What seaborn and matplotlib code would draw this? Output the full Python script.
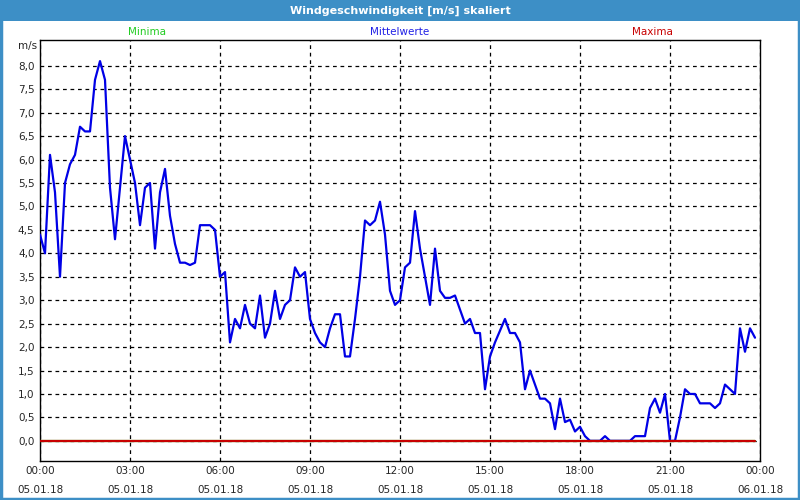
import numpy as np
import pandas as pd
import matplotlib
matplotlib.use("Agg")
import matplotlib.pyplot as plt
import matplotlib.dates as mdates
from matplotlib.patches import Rectangle
from matplotlib.ticker import FuncFormatter, FixedLocator
import seaborn as sns

# 10-Minuten-Mittelwerte, 05.01.18 00:00 bis 23:50 (eine Zeile pro Stunde)
mittel = [
    4.4, 4.0, 6.1, 5.3, 3.5, 5.5,     # 00
    5.9, 6.1, 6.7, 6.6, 6.6, 7.7,     # 01
    8.1, 7.7, 5.4, 4.3, 5.4, 6.5,     # 02
    6.0, 5.5, 4.6, 5.4, 5.5, 4.1,     # 03
    5.3, 5.8, 4.8, 4.2, 3.8, 3.8,     # 04
    3.75, 3.8, 4.6, 4.6, 4.6, 4.5,    # 05
    3.5, 3.6, 2.1, 2.6, 2.4, 2.9,     # 06
    2.5, 2.4, 3.1, 2.2, 2.5, 3.2,     # 07
    2.6, 2.9, 3.0, 3.7, 3.5, 3.6,     # 08
    2.6, 2.3, 2.1, 2.0, 2.4, 2.7,     # 09
    2.7, 1.8, 1.8, 2.6, 3.5, 4.7,     # 10
    4.6, 4.7, 5.1, 4.4, 3.2, 2.9,     # 11
    3.0, 3.7, 3.8, 4.9, 4.1, 3.5,     # 12
    2.9, 4.1, 3.2, 3.05, 3.05, 3.1,   # 13
    2.8, 2.5, 2.6, 2.3, 2.3, 1.1,     # 14
    1.8, 2.1, 2.35, 2.6, 2.3, 2.3,    # 15
    2.1, 1.1, 1.5, 1.2, 0.9, 0.9,     # 16
    0.8, 0.25, 0.9, 0.4, 0.45, 0.2,   # 17
    0.3, 0.1, 0.0, 0.0, 0.0, 0.1,     # 18
    0.0, 0.0, 0.0, 0.0, 0.0, 0.1,     # 19
    0.1, 0.1, 0.7, 0.9, 0.6, 1.0,     # 20
    0.0, 0.0, 0.5, 1.1, 1.0, 1.0,     # 21
    0.8, 0.8, 0.8, 0.7, 0.8, 1.2,     # 22
    1.1, 1.0, 2.4, 1.9, 2.4, 2.2,     # 23
]
minima = [0.0] * len(mittel)
maxima = [0.0] * len(mittel)
zeit = pd.date_range("2018-01-05 00:00", periods=len(mittel), freq="10min")

y_ticks = [0.0, 0.5, 1.0, 1.5, 2.0, 2.5, 3.0, 3.5, 4.0, 4.5, 5.0, 5.5, 6.0, 6.5, 7.0, 7.5, 8.0]

df = pd.DataFrame({"zeit": zeit, "mittel": mittel, "minima": minima, "maxima": maxima})

sns.set_style("white")
plt.rcParams['font.family'] = ['DejaVu Sans']

blau_rahmen = "#3d8fc6"
fig = plt.figure(figsize=(8, 5), dpi=100)
fig.patch.set_facecolor("white")

# Titelleiste und Rahmen
fig.patches.append(Rectangle((0, 1 - 21 / 500), 1, 21 / 500, transform=fig.transFigure,
                             facecolor=blau_rahmen, edgecolor="none", zorder=0))
fig.patches.append(Rectangle((0.001, 0.002), 0.998, 0.996, transform=fig.transFigure,
                             facecolor="none", edgecolor=blau_rahmen, lw=2.5, zorder=5))
fig.text(0.5, 1 - 10.5 / 500, "Windgeschwindigkeit [m/s] skaliert", color="white",
         fontsize=8, fontweight="bold", ha="center", va="center")

ax = fig.add_axes([40 / 800, 1 - 461 / 500, 720 / 800, 421 / 500])

sns.lineplot(data=df, x="zeit", y="minima", color="#22cc22", lw=1.6, ax=ax, zorder=3)
sns.lineplot(data=df, x="zeit", y="mittel", color="#0000e6", lw=1.6, ax=ax, zorder=3)
sns.lineplot(data=df, x="zeit", y="maxima", color="#c80000", lw=1.6, ax=ax, zorder=4)

ax.set_xlim(pd.Timestamp("2018-01-05 00:00"), pd.Timestamp("2018-01-06 00:00"))
ax.set_ylim(-0.43, 8.55)
ax.set_xlabel("")
ax.set_ylabel("")

ax.xaxis.set_major_locator(mdates.HourLocator(byhour=range(0, 24, 3)))
ax.xaxis.set_minor_locator(mdates.HourLocator())
ax.xaxis.set_major_formatter(mdates.DateFormatter("%H:%M\n%d.%m.%y"))
ax.yaxis.set_major_locator(FixedLocator(y_ticks))
ax.yaxis.set_major_formatter(FuncFormatter(lambda v, p: f"{v:.1f}".replace(".", ",")))

ax.tick_params(axis="x", which="both", direction="out", length=3, width=1,
               color="black", labelsize=7.5, pad=0.5)
ax.tick_params(axis="y", length=0, labelsize=7.5, pad=4)
for lab in ax.get_xticklabels():
    lab.set_linespacing(2.2)

ax.grid(True, which="major", color="black", lw=0.9, ls=(0, (3, 3)))
for s in ax.spines.values():
    s.set_color("black")
    s.set_linewidth(1)

ax.text(-0.004, 1 - 6 / 421, "m/s", transform=ax.transAxes, ha="right", va="center",
        fontsize=7.5)

# Legende oberhalb der Achse
fig.text(147 / 800, 1 - 32 / 500, "Minima", color="#22cc22", fontsize=7.5, ha="center", va="center")
fig.text(400 / 800, 1 - 32 / 500, "Mittelwerte", color="#2020e6", fontsize=7.5, ha="center", va="center")
fig.text(652 / 800, 1 - 32 / 500, "Maxima", color="#c80000", fontsize=7.5, ha="center", va="center")

fig.savefig("out.png", dpi=100, facecolor="white")
